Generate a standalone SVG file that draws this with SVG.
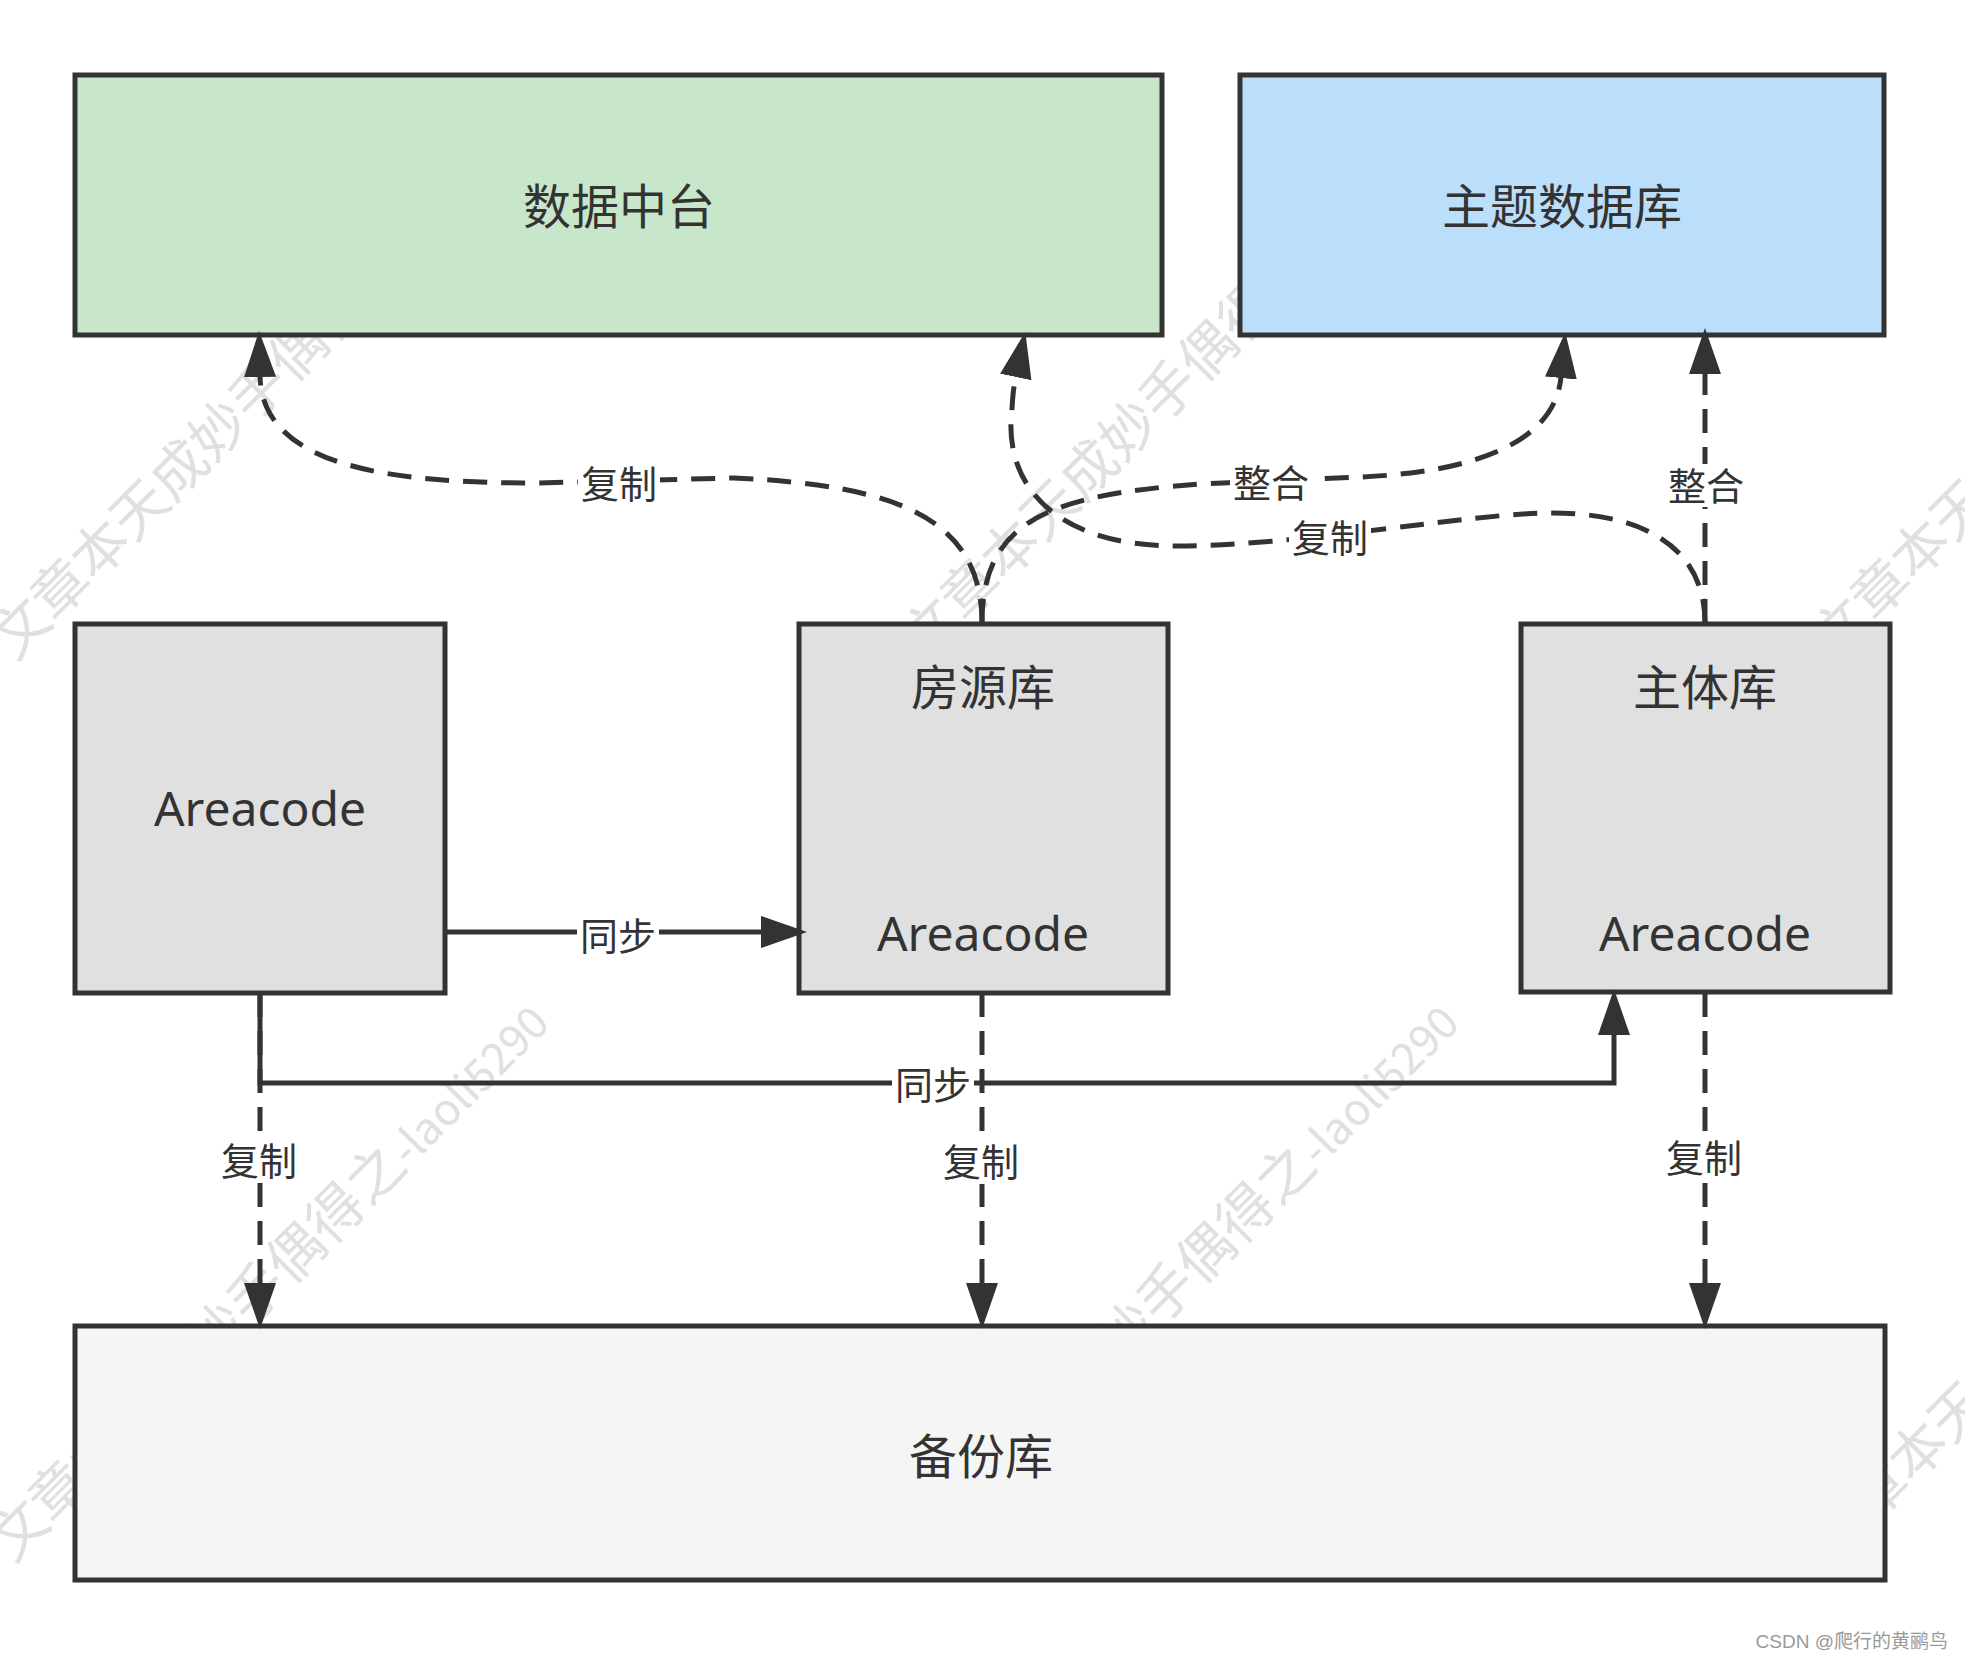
<svg xmlns="http://www.w3.org/2000/svg" width="1965" height="1659" viewBox="0 0 1965 1659">
<style>
.box{stroke:#333;stroke-width:5}
.t{font-family:"Noto Sans","Noto Sans CJK SC",sans-serif;fill:#333;text-anchor:middle}
.big{font-size:48px}
.lbl{font-size:38px}
.ln{fill:none;stroke:#333;stroke-width:5}
.dash{stroke-dasharray:24 14}
.bg{fill:#fff}
.wm{font-family:"Noto Sans CJK SC",sans-serif;font-size:56px;fill:#e0e0e0}
.wl{font-size:44px}
.arr{marker-end:url(#arr)}
</style>
<defs>
<marker id="arr" viewBox="0 0 46 32" markerWidth="46" markerHeight="32" refX="1" refY="16" orient="auto" markerUnits="userSpaceOnUse"><path d="M0,0 L46,16 L0,32 Z" fill="#333"/></marker>
</defs>
<rect width="1965" height="1659" fill="#fff"/>
<g id="watermark">
<text class="wm" x="15" y="662" transform="rotate(-45 15 662)">文章本天成妙手偶得之<tspan class="wl">-laoli5290</tspan></text>
<text class="wm" x="925" y="662" transform="rotate(-45 925 662)">文章本天成妙手偶得之<tspan class="wl">-laoli5290</tspan></text>
<text class="wm" x="1835" y="662" transform="rotate(-45 1835 662)">文章本天成妙手偶得之<tspan class="wl">-laoli5290</tspan></text>
<text class="wm" x="13" y="1564" transform="rotate(-45 13 1564)">文章本天成妙手偶得之<tspan class="wl">-laoli5290</tspan></text>
<text class="wm" x="923" y="1564" transform="rotate(-45 923 1564)">文章本天成妙手偶得之<tspan class="wl">-laoli5290</tspan></text>
<text class="wm" x="1833" y="1564" transform="rotate(-45 1833 1564)">文章本天成妙手偶得之<tspan class="wl">-laoli5290</tspan></text>
</g>
<g id="n-datacenter"><rect class="box" x="75" y="75" width="1087" height="260" fill="#c8e6c9"/><text class="t big" x="619" y="224">数据中台</text></g>
<g id="n-themedb"><rect class="box" x="1240" y="75" width="644" height="260" fill="#bbdefb"/><text class="t big" x="1562" y="224">主题数据库</text></g>
<g id="n-areacode"><rect class="box" x="75" y="624" width="370" height="369" fill="#e0e0e0"/><text class="t big" x="260" y="826">Areacode</text></g>
<g id="n-house"><rect class="box" x="799" y="624" width="369" height="369" fill="#e0e0e0"/><text class="t big" x="983" y="705">房源库</text><text class="t big" x="983" y="951">Areacode</text></g>
<g id="n-subject"><rect class="box" x="1521" y="624" width="369" height="368" fill="#e0e0e0"/><text class="t big" x="1705" y="705">主体库</text><text class="t big" x="1705" y="951">Areacode</text></g>
<g id="n-backup"><rect class="box" x="75" y="1326" width="1810" height="254" fill="#f5f5f5"/><text class="t big" x="981" y="1474">备份库</text></g>
<g id="connectors">
<path class="ln arr" d="M445,932 H762"/>
<path class="ln arr" d="M260,993 V1083 H1614 V1034"/>
<path class="ln dash arr" d="M260,993 V1284"/>
<path class="ln dash arr" d="M982,993 V1284"/>
<path class="ln dash arr" d="M1705,993 V1284"/>
<path class="ln dash arr" d="M982,623 C982,520 900,485 734,478 L536,483 C400,483 262,470 260,376"/>
<path class="ln dash arr" d="M982,623 C982,520 1050,495 1200,484 L1360,477 C1480,472 1555,440 1561,377"/>
<path class="ln dash arr" d="M1705,623 C1705,545 1640,513 1552,513 C1470,513 1300,546 1177,546 C1060,546 1008,490 1011,420 C1013,400 1012,395 1016,376"/>
<path class="ln dash arr" d="M1705,623 V373"/>
<g id="labels">
<rect class="bg" x="578" y="462" width="82" height="43"/><text class="t lbl" x="619" y="498">复制</text>
<rect class="bg" x="1230" y="461" width="82" height="43"/><text class="t lbl" x="1271" y="497">整合</text>
<rect class="bg" x="1289" y="516" width="82" height="43"/><text class="t lbl" x="1330" y="552">复制</text>
<rect class="bg" x="1665" y="464" width="82" height="43"/><text class="t lbl" x="1706" y="500">整合</text>
<rect class="bg" x="577" y="914" width="82" height="43"/><text class="t lbl" x="618" y="950">同步</text>
<rect class="bg" x="892" y="1064" width="82" height="43"/><text class="t lbl" x="933" y="1099">同步</text>
<rect class="bg" x="218" y="1140" width="82" height="43"/><text class="t lbl" x="259" y="1175">复制</text>
<rect class="bg" x="940" y="1141" width="82" height="43"/><text class="t lbl" x="981" y="1176">复制</text>
<rect class="bg" x="1663" y="1137" width="82" height="43"/><text class="t lbl" x="1704" y="1172">复制</text>
</g>
</g>
<text x="1948" y="1648" font-family="'Liberation Sans','Noto Sans CJK SC',sans-serif" font-size="19" fill="#999" text-anchor="end">CSDN @爬行的黄鹂鸟</text>
</svg>
